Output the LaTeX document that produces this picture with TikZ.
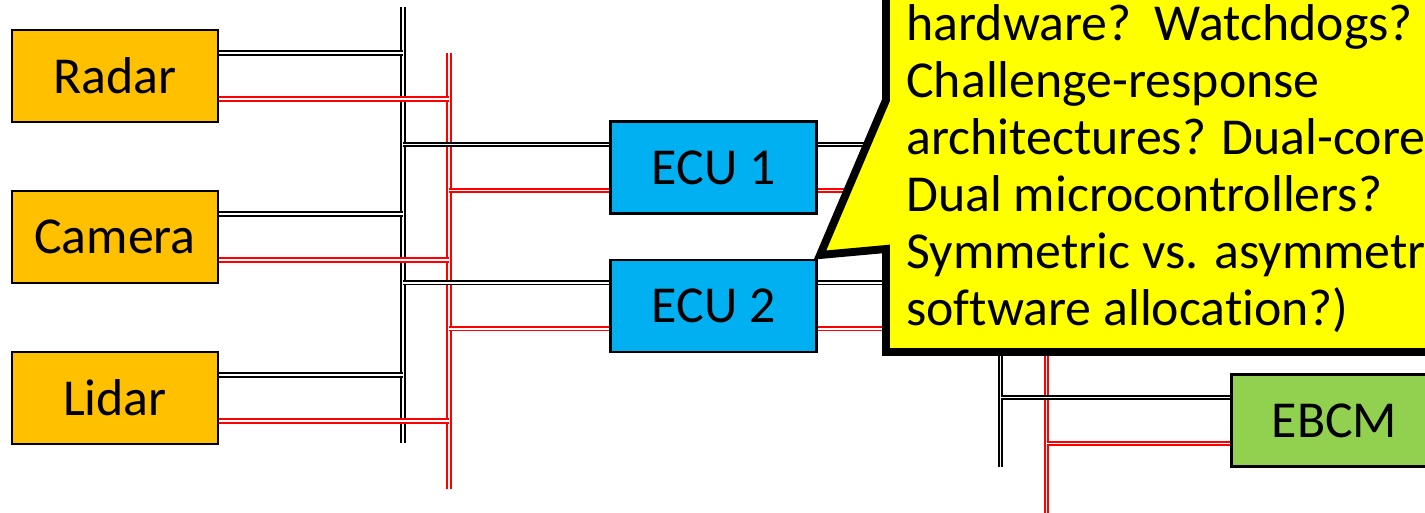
\documentclass[tikz,border=0pt]{standalone}
\usepackage{fontspec}
\setmainfont{Carlito}[Ligatures=NoCommon]
\usetikzlibrary{positioning}

\definecolor{sensorfill}{HTML}{FFC000}
\definecolor{ecufill}{HTML}{00B0F0}
\definecolor{brakefill}{HTML}{92D050}
\definecolor{notefill}{HTML}{FFFF00}
\definecolor{canred}{HTML}{FF0000}

\tikzset{
  box/.style={draw=black, line width=1.2pt, minimum width=4.12cm,
    minimum height=1.84cm, inner sep=0pt, font=\fontsize{29.5}{32}\selectfont},
  sensor/.style={box, fill=sensorfill},
  ecu/.style={box, fill=ecufill},
  brake/.style={box, fill=brakefill},
  blackbus/.style={draw=black, double=white, line width=1.1pt, double distance=1.1pt},
  redbus/.style={draw=canred, double=white, line width=1.1pt, double distance=1.1pt},
  callout/.style={draw=black, fill=notefill, line width=4.5pt},
  note/.style={align=left, inner sep=0pt, font=\fontsize{29.5}{32.5}\selectfont}
}

\begin{document}
\begin{tikzpicture}[x=0.02cm, y=-0.02cm]
  \useasboundingbox (0,0) rectangle (1425,513);
  \clip (0,0) rectangle (1425,513);

  % Bus ends
  \coordinate (lbtop) at (403,7);
  \coordinate (lbbot) at (403,443);
  \coordinate (lrtop) at (449,53);
  \coordinate (lrbot) at (449,489);
  \coordinate (rbtop) at (1000.5,120);
  \coordinate (rbbot) at (1000.5,467);
  \coordinate (rrtop) at (1046.5,120);
  \coordinate (rrbot) at (1046.5,525);

  % Vertical buses
  \draw[blackbus] (lbtop) -- (lbbot);
  \draw[redbus] (lrtop) -- (lrbot);
  \draw[blackbus] (rbtop) -- (rbbot);
  \draw[redbus] (rrtop) -- (rrbot);

  % Sensors
  \node[sensor] (radar) at (115,76) {Radar};
  \node[sensor, below=1.34cm of radar] (camera) {Camera};
  \node[sensor, below=1.34cm of camera] (lidar) {Lidar};

  % Controllers
  \node[ecu] (ecu1) at (713.5,167.5) {ECU 1};
  \node[ecu, below=0.88cm of ecu1] (ecu2) {ECU 2};
  \node[brake] (ebcm) at (1334.5,420.5) {EBCM};

  % Sensor links
  \foreach \n in {radar,camera,lidar}{
    \coordinate (\n-b) at ([yshift=0.46cm]\n.east);
    \coordinate (\n-r) at ([yshift=-0.46cm]\n.east);
    \draw[blackbus] (\n-b) -- (\n-b -| lbtop);
    \draw[redbus] (\n-r) -- (\n-r -| lrtop);
  }

  % ECU links, both sides
  \foreach \n in {ecu1,ecu2}{
    \coordinate (\n-bl) at ([yshift=0.46cm]\n.west);
    \coordinate (\n-rl) at ([yshift=-0.46cm]\n.west);
    \coordinate (\n-br) at ([yshift=0.46cm]\n.east);
    \coordinate (\n-rr) at ([yshift=-0.46cm]\n.east);
    \draw[blackbus] (\n-bl -| lbtop) -- (\n-bl);
    \draw[redbus] (\n-rl -| lrtop) -- (\n-rl);
    \draw[blackbus] (\n-br) -- (\n-br -| rbtop);
    \draw[redbus] (\n-rr) -- (\n-rr -| rrtop);
  }

  % EBCM links
  \coordinate (ebcm-b) at ([yshift=0.46cm]ebcm.west);
  \coordinate (ebcm-r) at ([yshift=-0.46cm]ebcm.west);
  \draw[blackbus] (ebcm-b -| rbtop) -- (ebcm-b);
  \draw[redbus] (ebcm-r -| rrtop) -- (ebcm-r);

  % Callout
  \draw[callout] (886,-30) -- (886,100) -- (820,255) -- (886,249)
    -- (886,352) -- (1460,352) -- (1460,-30) -- cycle;
  \node[note, anchor=north west] (question) at (906,4)
    {\frenchspacing hardware?\ \ Watchdogs?\\
     Challenge-response\\
     architectures? Dual-core\\
     Dual microcontrollers?\\
     Symmetric vs. asymmetric\\
     software allocation?)};
\end{tikzpicture}
\end{document}
